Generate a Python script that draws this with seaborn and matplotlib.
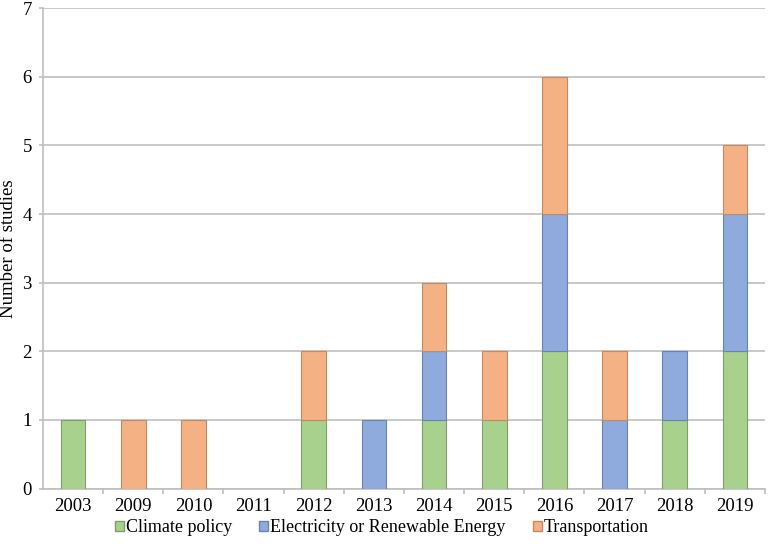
import pandas as pd
import matplotlib.pyplot as plt
import seaborn as sns
from matplotlib.patches import Patch

# dados
anos = ['2003', '2009', '2010', '2011', '2012', '2013', '2014', '2015', '2016', '2017', '2018', '2019']
climate = [1, 0, 0, 0, 1, 0, 1, 1, 2, 0, 1, 2]
electricity = [0, 0, 0, 0, 0, 1, 1, 0, 2, 1, 1, 2]
transport = [0, 1, 1, 0, 1, 0, 1, 1, 2, 1, 0, 1]

series = ['Climate policy', 'Electricity or Renewable Energy', 'Transportation']
cores = ['#A9D18E', '#8FAADC', '#F4B183']
bordas = ['#7F9F6A', '#6A84B0', '#C08A66']

df = pd.DataFrame({'ano': anos, series[0]: climate, series[1]: electricity, series[2]: transport})

sns.set_style('white', {'text.color': 'black', 'xtick.color': 'black', 'ytick.color': 'black',
                        'axes.labelcolor': 'black'})
plt.rcParams['font.family'] = ['Liberation Serif', 'DejaVu Serif']

fig = plt.figure(figsize=(7.68, 5.44), dpi=100)
ax = fig.add_axes([0.056, 0.102, 0.94, 0.883])

base = pd.Series([0] * len(df))
for s, c, b in zip(series, cores, bordas):
    sns.barplot(data=df, x='ano', y=s, color=c, saturation=1, bottom=base, width=0.41,
                edgecolor=b, linewidth=0.8, ax=ax, zorder=3)
    base = base + df[s]

# sem contorno nos segmentos vazios
for p in ax.patches:
    if p.get_height() == 0:
        p.set_linewidth(0)

ax.set_ylim(0, 7)
ax.set_xlim(-0.5, len(anos) - 0.5)
ax.set_yticks(range(8))
ax.yaxis.grid(True, color='#BFBFBF', linewidth=1.2, zorder=0)
ax.set_axisbelow(True)
ax.set_xlabel('')
ax.set_ylabel('Number of studies', fontsize=13.5, labelpad=4)

for sp in ['top', 'right']:
    ax.spines[sp].set_visible(False)
for sp in ['left', 'bottom']:
    ax.spines[sp].set_color('#BFBFBF')
    ax.spines[sp].set_linewidth(1.2)

ax.tick_params(axis='y', length=3, color='#BFBFBF', labelcolor='black', width=1.2, labelsize=13.5, pad=5, left=True)
ax.tick_params(axis='x', length=0, labelcolor='black', labelsize=13.5, pad=7, bottom=True)
# traços entre as categorias
ax.set_xticks([i + 0.5 for i in range(len(anos))], minor=True)
ax.tick_params(axis='x', which='minor', length=3.5, color='#BFBFBF', width=1.2, bottom=True)

handles = [Patch(facecolor=c, edgecolor=b, label=s) for s, c, b in zip(series, cores, bordas)]
fig.legend(handles=handles, loc='center', bbox_to_anchor=(0.497, 0.03), ncol=3, frameon=False,
           fontsize=13, handlelength=0.5, handleheight=0.5, handletextpad=0.1, columnspacing=1.5,
           labelcolor='black')

plt.savefig('out.png', dpi=100)
